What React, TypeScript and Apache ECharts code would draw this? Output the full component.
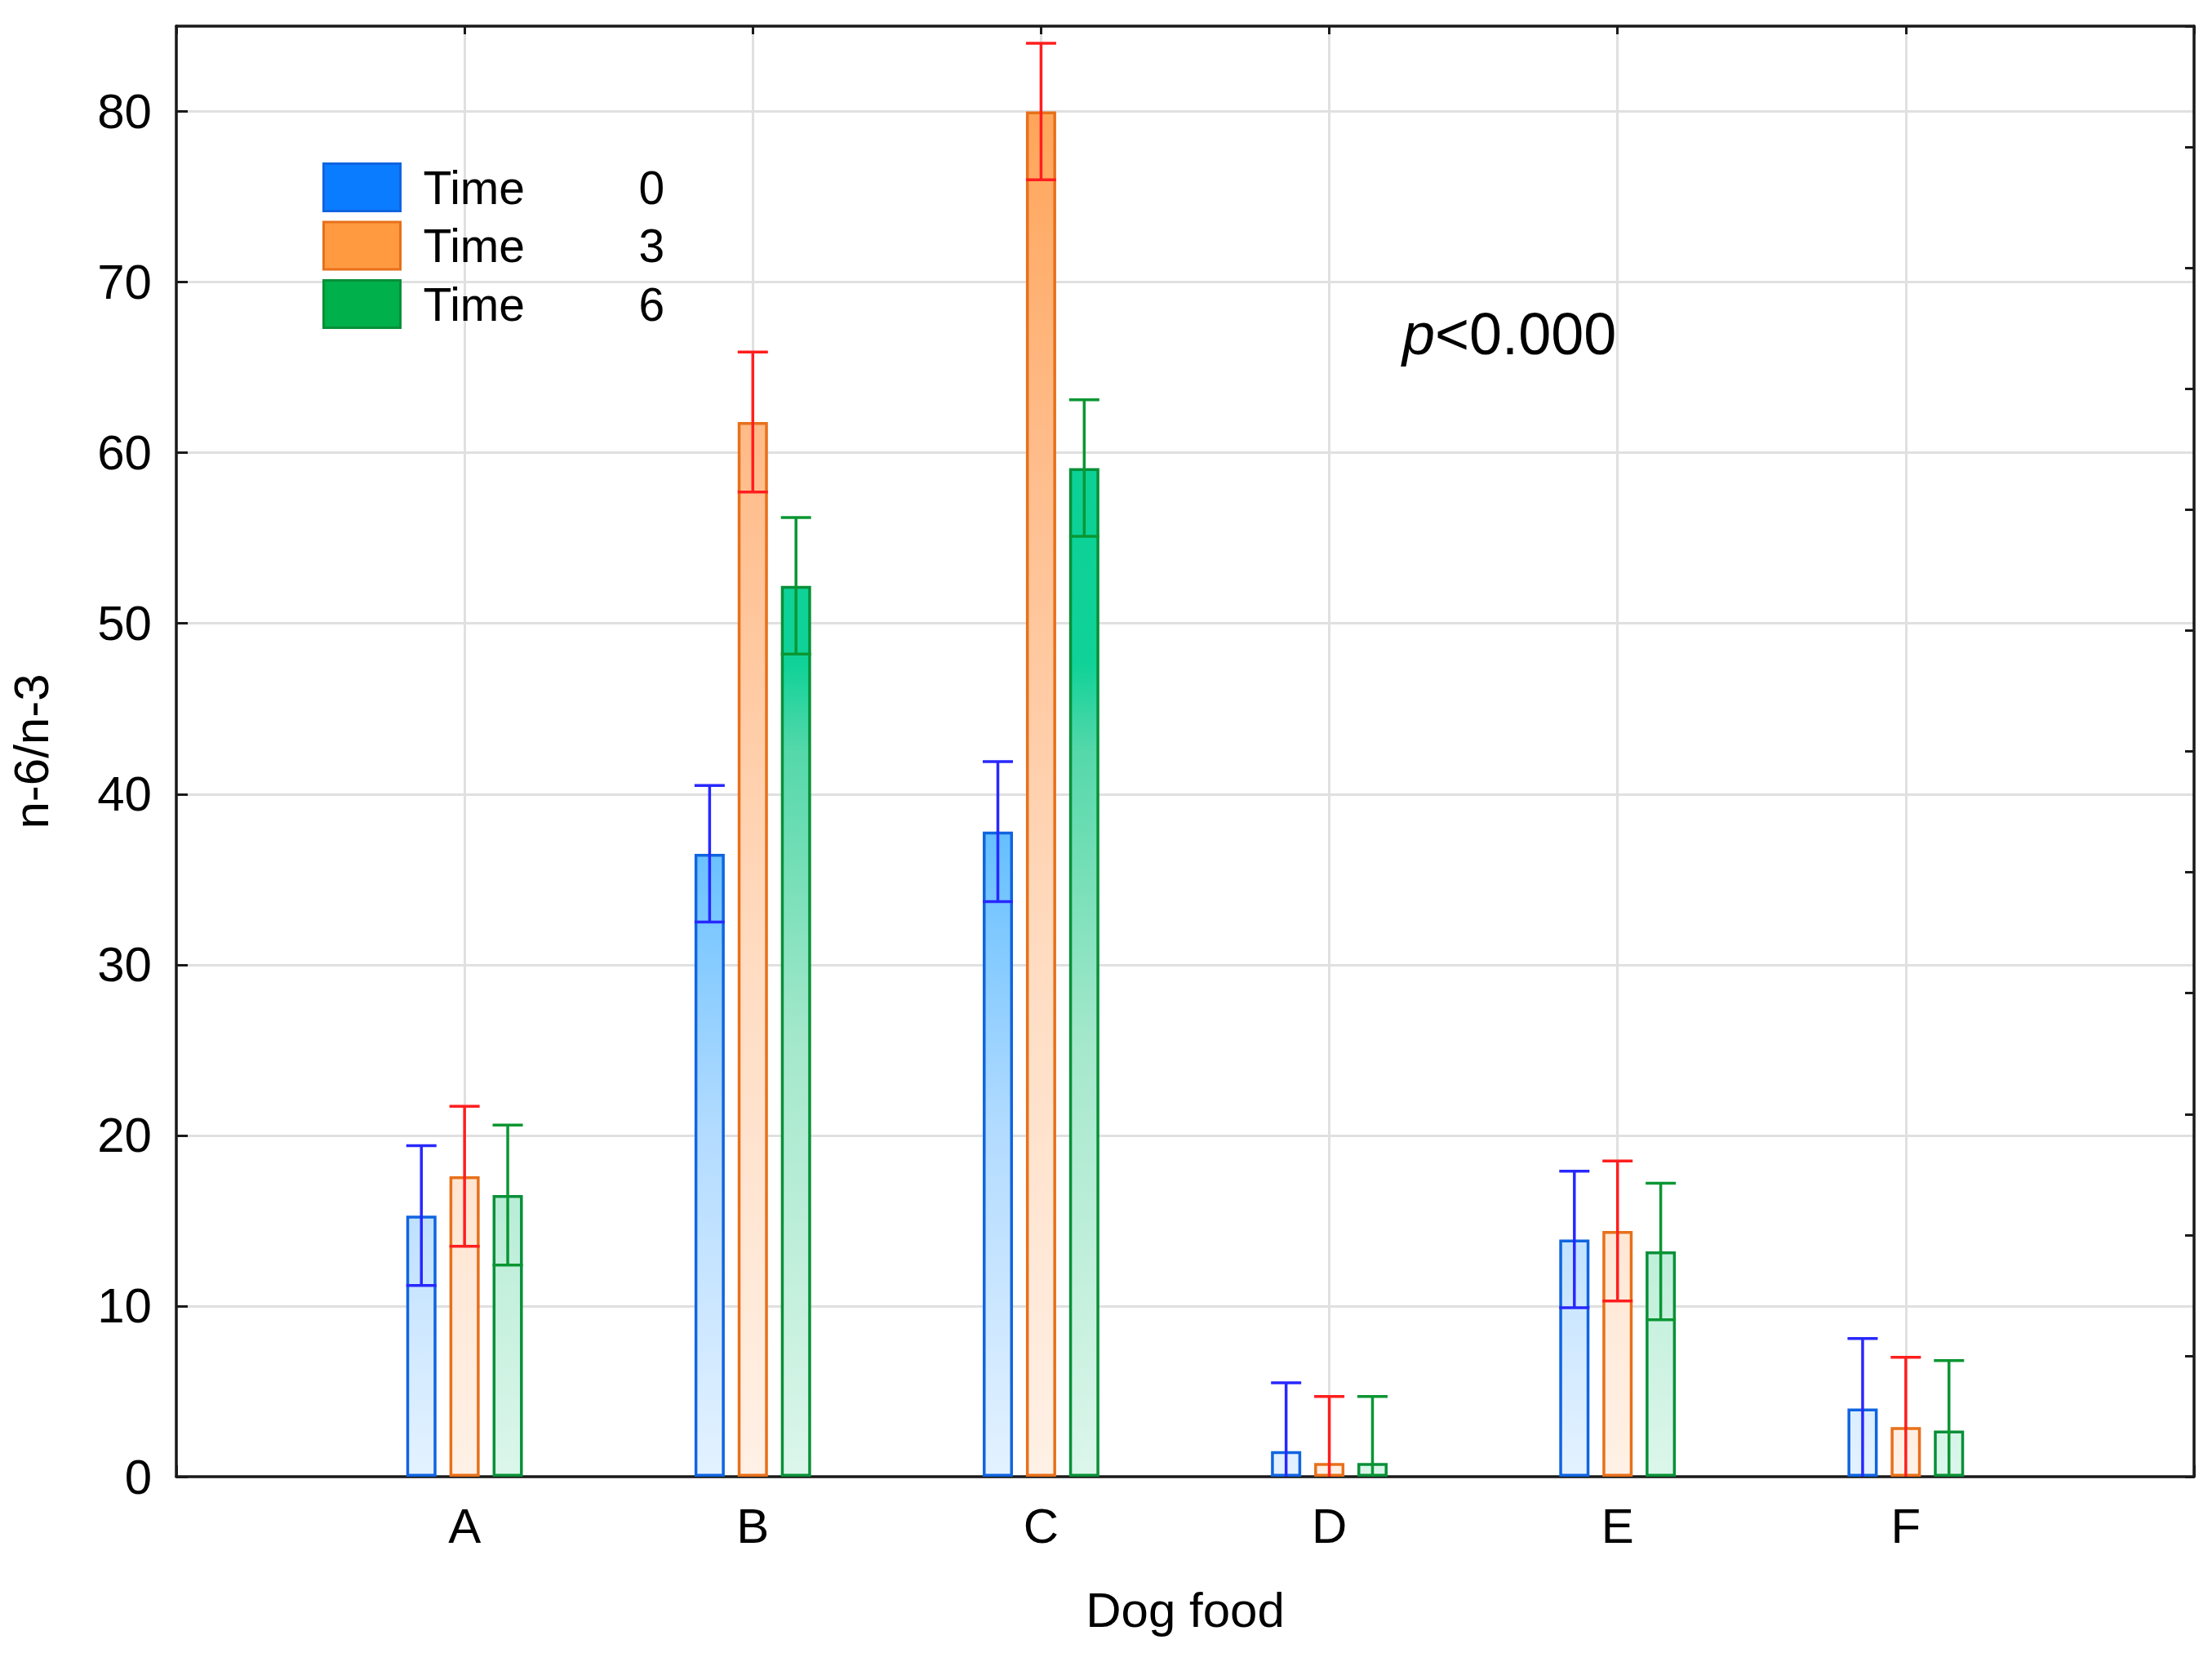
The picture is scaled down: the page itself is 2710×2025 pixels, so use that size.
import React, { useEffect, useRef } from 'react';
import * as echarts from 'echarts';

// ---------- data ----------
const categories = ['', 'A', 'B', 'C', 'D', 'E', 'F', ''];
const seriesNames = ['Time 0', 'Time 3', 'Time 6'];
const time0Mean = [15.3, 36.5, 37.8, 1.5, 13.9, 4.0];
const time3Mean = [17.6, 61.8, 80.0, 0.8, 14.4, 2.9];
const time6Mean = [16.5, 52.2, 59.1, 0.8, 13.2, 2.7];
const time0Err = [4.1, 4.0, 4.1, 4.0, 4.0, 4.1];
const time3Err = [4.1, 4.1, 4.0, 3.9, 4.1, 4.1];
const time6Err = [4.1, 4.0, 4.0, 3.9, 4.0, 4.1];
const yMax = 85;
const yInterval = 10;
const pLabel = 'p<0.000';
const xName = 'Dog food';
const yName = 'n-6/n-3';

// ---------- layout / style ----------
const W = 2710;
const H = 2025;
const GL = 216;
const GR = 2688;
const GT = 32;
const GB = 1809;
const FONT = '"Liberation Sans", Arial, sans-serif';
const BAR_W = 37;
const GAP = 0.43;
const AXIS_COLOR = '#1a1a1a';
const GRID_COLOR = '#e0e0e0';

const borderColors = ['#1064e0', '#e8701a', '#089038'];
const whiskerColors = ['#2828ff', '#ff1e1e', '#0a9632'];
const legendFill = ['#0a7cff', '#ff9a40', '#00b04a'];
const gradientStops = [
  [
    [0, '#e4f2ff'],
    [0.24, '#b2dbff'],
    [0.44, '#66c0ff'],
    [1, '#0a96ff'],
  ],
  [
    [0, '#fff1e6'],
    [0.35, '#ffdcc2'],
    [0.72, '#ffbb88'],
    [0.95, '#ffa458'],
    [1, '#ffa050'],
  ],
  [
    [0, '#dcf6eb'],
    [0.3, '#a4e8cb'],
    [0.5, '#55d8aa'],
    [0.56, '#10d298'],
    [1, '#00d094'],
  ],
];

function grad(i: number) {
  return new echarts.graphic.LinearGradient(
    0,
    GB,
    0,
    GT,
    gradientStops[i].map((s) => ({ offset: s[0] as number, color: s[1] as string })),
    true
  );
}

function barSeries(i: number, means: number[]) {
  return {
    type: 'bar',
    name: seriesNames[i],
    xAxisIndex: 0,
    yAxisIndex: 0,
    barWidth: BAR_W,
    barGap: Math.round(GAP * 100) + '%',
    data: means.map((v, k) => [k + 1, v]),
    itemStyle: {
      color: grad(i),
      borderColor: borderColors[i],
      borderWidth: 3.5,
    },
    z: 3,
  };
}

function errSeries(i: number, means: number[], errs: number[]) {
  const offset = (i - 1) * BAR_W * (1 + GAP);
  const hw = BAR_W / 2;
  return {
    type: 'custom',
    xAxisIndex: 0,
    yAxisIndex: 0,
    clip: true,
    z: 5,
    data: means.map((m, k) => [k + 1, m - errs[k], m + errs[k]]),
    encode: { x: 0, y: [1, 2] },
    renderItem: (params: any, api: any) => {
      const c = api.value(0);
      const lo = api.coord([c, api.value(1)]);
      const hi = api.coord([c, api.value(2)]);
      const x = lo[0] + offset;
      const st = { stroke: whiskerColors[i], lineWidth: 3.5 };
      return {
        type: 'group',
        children: [
          { type: 'line', shape: { x1: x, y1: lo[1], x2: x, y2: hi[1] }, style: st },
          { type: 'line', shape: { x1: x - hw, y1: hi[1], x2: x + hw, y2: hi[1] }, style: st },
          { type: 'line', shape: { x1: x - hw, y1: lo[1], x2: x + hw, y2: lo[1] }, style: st },
        ],
      };
    },
  };
}

export default function App() {
  const ref = useRef<HTMLDivElement>(null);
  useEffect(() => {
    if (!ref.current) return;
    const chart = echarts.init(ref.current, undefined, { renderer: 'svg' });
    const axisLine = { show: true, onZero: false, lineStyle: { color: AXIS_COLOR, width: 3.5 } };
    const legendText = { fontSize: 57, color: '#000', fontFamily: FONT, lineHeight: 58 };
    const option: any = {
      animation: false,
      backgroundColor: '#ffffff',
      grid: { left: GL, top: GT, width: GR - GL, height: GB - GT, containLabel: false },
      legend: {
        left: 395,
        top: 199,
        padding: 0,
        orient: 'vertical',
        itemWidth: 94,
        itemHeight: 58,
        itemGap: 10.5,
        icon: 'rect',
        selectedMode: false,
        data: seriesNames.map((n, i) => ({
          name: n,
          itemStyle: { color: legendFill[i], borderColor: borderColors[i], borderWidth: 3 },
        })),
        formatter: (name: string) => {
          const parts = name.split(' ');
          return `{t|${parts[0]}}{n|${parts[1]}}`;
        },
        textStyle: {
          ...legendText,
          rich: {
            t: { ...legendText, width: 264, padding: [0, 0, 0, 23] },
            n: { ...legendText },
          },
        },
      },
      xAxis: [
        {
          type: 'category',
          data: categories,
          boundaryGap: false,
          position: 'bottom',
          axisLine,
          axisTick: { show: true, inside: true, length: 14, lineStyle: { color: AXIS_COLOR, width: 3 } },
          axisLabel: { fontSize: 60, color: '#000', margin: 30, fontFamily: FONT },
          splitLine: { show: true, lineStyle: { color: GRID_COLOR, width: 3 } },
          name: xName,
          nameLocation: 'middle',
          nameGap: 133,
          nameTextStyle: { fontSize: 60, color: '#000', fontFamily: FONT },
        },
        {
          type: 'category',
          data: categories,
          boundaryGap: false,
          position: 'top',
          axisLine,
          axisTick: { show: true, inside: true, length: 10, lineStyle: { color: AXIS_COLOR, width: 3 } },
          axisLabel: { show: false },
          splitLine: { show: false },
        },
      ],
      yAxis: [
        {
          type: 'value',
          min: 0,
          max: yMax,
          interval: yInterval,
          position: 'left',
          axisLine,
          axisTick: { show: true, inside: true, length: 14, lineStyle: { color: AXIS_COLOR, width: 3 } },
          axisLabel: {
            fontSize: 60,
            color: '#000',
            margin: 30,
            fontFamily: FONT,
            showMaxLabel: false,
            formatter: (v: number) => (v % yInterval === 0 ? String(v) : ''),
          },
          splitLine: { show: true, lineStyle: { color: GRID_COLOR, width: 3 } },
          name: yName,
          nameLocation: 'middle',
          nameGap: 148,
          nameTextStyle: { fontSize: 60, color: '#000', fontFamily: FONT },
        },
        {
          type: 'value',
          min: 0,
          max: yMax,
          interval: yMax / 12,
          position: 'right',
          axisLine,
          axisTick: { show: true, inside: true, length: 11, lineStyle: { color: AXIS_COLOR, width: 3 } },
          axisLabel: { show: false },
          splitLine: { show: false },
        },
      ],
      graphic: [
        {
          type: 'text',
          x: 1718,
          y: 409,
          silent: true,
          style: {
            text: `{i|${pLabel.slice(0, 1)}}{r|${pLabel.slice(1)}}`,
            verticalAlign: 'middle',
            fill: '#000',
            rich: {
              i: { fontSize: 72, fontStyle: 'italic', fontFamily: FONT, fill: '#000' },
              r: { fontSize: 72, fontFamily: FONT, fill: '#000' },
            },
          },
        },
      ],
      series: [
        barSeries(0, time0Mean),
        barSeries(1, time3Mean),
        barSeries(2, time6Mean),
        errSeries(0, time0Mean, time0Err),
        errSeries(1, time3Mean, time3Err),
        errSeries(2, time6Mean, time6Err),
      ],
    };
    chart.setOption(option);
    return () => chart.dispose();
  }, []);
  return (
    <div
      ref={ref}
      style={{ position: 'absolute', left: 0, top: 0, width: W, height: H, background: '#fff' }}
    />
  );
}
